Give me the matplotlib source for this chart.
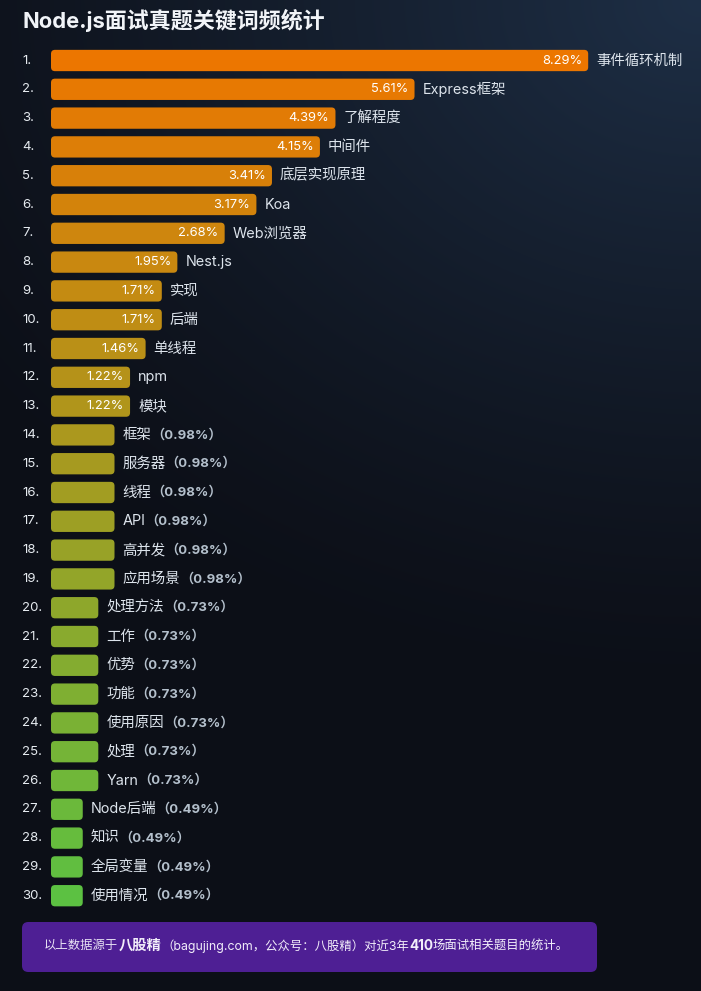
import numpy as np
import matplotlib.pyplot as plt
from matplotlib.patches import FancyBboxPatch
from matplotlib.colors import to_rgb

plt.rcParams['font.family'] = ['Inter', 'Noto Sans CJK SC', 'DejaVu Sans']

# 数据
keywords = ['事件循环机制', 'Express框架', '了解程度', '中间件', '底层实现原理', 'Koa',
            'Web浏览器', 'Nest.js', '实现', '后端', '单线程', 'npm', '模块', '框架',
            '服务器', '线程', 'API', '高并发', '应用场景', '处理方法', '工作', '优势',
            '功能', '使用原因', '处理', 'Yarn', 'Node后端', '知识', '全局变量', '使用情况']
percents = [8.29, 5.61, 4.39, 4.15, 3.41, 3.17, 2.68, 1.95, 1.71, 1.71, 1.46, 1.22, 1.22,
            0.98, 0.98, 0.98, 0.98, 0.98, 0.98, 0.73, 0.73, 0.73, 0.73, 0.73, 0.73, 0.73,
            0.49, 0.49, 0.49, 0.49]
inside_min = 1.2  # 大于此值时百分比写在条内

W, H = 701, 991
fig = plt.figure(figsize=(W / 100, H / 100), dpi=100)

# 背景渐变
bg = fig.add_axes([0, 0, 1, 1])
yy, xx = np.mgrid[0:H, 0:W]
d = np.sqrt(((W - xx) / 900.0) ** 2 + (yy / 700.0) ** 2)
t = np.clip(1 - d, 0, 1) ** 1.3
base = np.array(to_rgb('#0c0f17'))
glow = np.array(to_rgb('#1e2f46'))
img = base + (glow - base) * t[..., None]
bg.imshow(img, extent=[0, W, H, 0], aspect='auto')
bg.set_xlim(0, W)
bg.set_ylim(H, 0)
bg.axis('off')

# 标题
fig.text(22 / W, 1 - 20 / H, 'Node.js面试真题关键词频统计', color='#f1f4f8',
         fontsize=15.8, fontweight='bold', va='center', ha='left')

# 条形图
px_per_pct = 64.8
row_h = 28.8
n = len(keywords)
x0 = 51
ax_w = W - x0
top = 60.5 - row_h / 2
ax = fig.add_axes([x0 / W, 1 - (top + n * row_h) / H, ax_w / W, n * row_h / H])
ax.set_xlim(0, ax_w / px_per_pct)
ax.set_ylim(n - 0.5, -0.5)
ax.axis('off')

c0 = np.array(to_rgb('#ec7600'))
c1 = np.array(to_rgb('#5cc142'))
bar_h = 0.74
rs = 4 / px_per_pct
asp = px_per_pct / row_h
pad_x = 6 / px_per_pct

for i, (kw, p) in enumerate(zip(keywords, percents)):
    col = c0 + (c1 - c0) * (i / (n - 1))
    ax.add_patch(FancyBboxPatch((0, i - bar_h / 2), p, bar_h,
                                boxstyle=f'round,pad=0,rounding_size={rs}',
                                mutation_aspect=asp, fc=col, ec='none'))
    ax.text(-29 / px_per_pct, i, f'{i + 1}.', color='#e6ebf0', fontsize=9.5,
            ha='left', va='center')
    if p > inside_min:
        ax.text(p - pad_x, i, f'{p:.2f}%', color='white', fontsize=9.3,
                ha='right', va='center')
        ax.text(p + 8 / px_per_pct, i, kw, color='#dde4ec', fontsize=10.4,
                ha='left', va='center')
    else:
        t1 = ax.text(p + 8 / px_per_pct, i, kw, color='#dde4ec', fontsize=10.4,
                     ha='left', va='center')
        ax.annotate(f'（{p:.2f}%）', xy=(1, 0.5), xycoords=t1, color='#b4c0cc',
                    fontsize=9.5, fontweight='bold', ha='left', va='center')

# 底部说明
box = FancyBboxPatch((22 / W, 1 - 972 / H), 575 / W, 50 / H,
                     boxstyle='round,pad=0,rounding_size=0.009',
                     mutation_aspect=W / H, transform=fig.transFigure,
                     fc='#4e1f94', ec='none')
fig.add_artist(box)
fs = 8.9
a = fig.text(44 / W, 1 - 946 / H, '以上数据源于', color='#e8e2f4', fontsize=fs,
             ha='left', va='center')
parts = [('八股精', 'bold', 10.3), ('（bagujing.com，公众号：八股精）对近3年', 'normal', fs),
         ('410', 'bold', 9.8), ('场面试相关题目的统计。', 'normal', fs)]
prev = a
for s, w, f in parts:
    prev = fig.add_artist(plt.Annotation(s, xy=(1, 0.5), xycoords=prev, color='#f2eefa',
                                         fontsize=f, fontweight=w, ha='left', va='center'))

fig.savefig('out.png', dpi=100)
